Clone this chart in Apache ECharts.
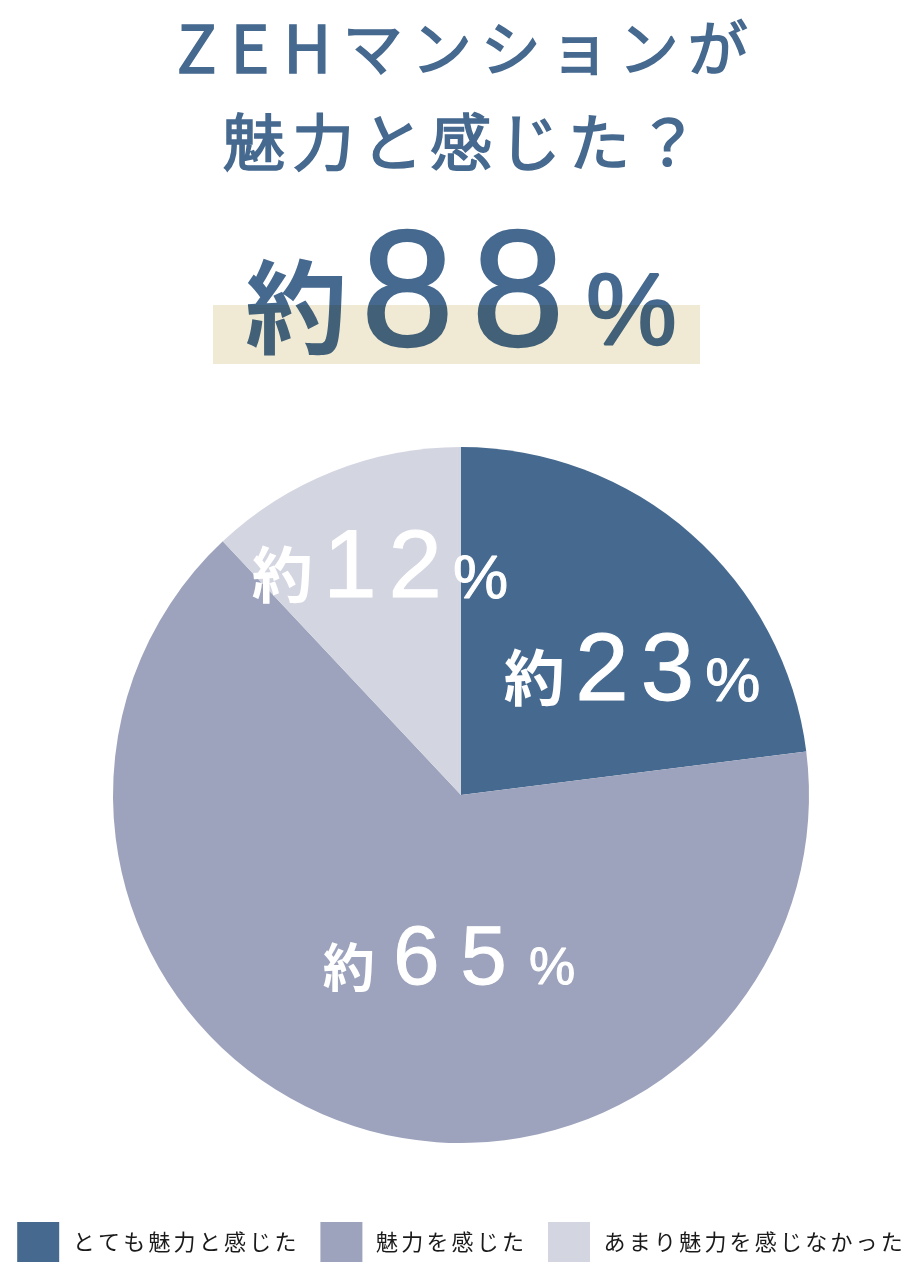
<!DOCTYPE html>
<html>
<head>
<meta charset="utf-8">
<script src="https://cdn.jsdelivr.net/npm/echarts@6/dist/echarts.min.js"></script>
<style>
html,body{margin:0;padding:0;background:#fff;}
#chart{width:920px;height:1280px;}
</style>
</head>
<body>
<div id="chart"></div>
<script>
// ---- data ----
const categories = ['とても魅力と感じた', '魅力を感じた', 'あまり魅力を感じなかった'];
const values = [23, 65, 12];
const titleLines = ['ZEHマンションが', '魅力と感じた？'];
const headlinePrefix = '約';
const headlineValue = values[0] + values[1];
const colors = ['#46698F', '#9DA3BC', '#D3D5E1'];

// ---- styling helpers ----
const CJK = '"Noto Sans CJK JP", "Noto Sans", sans-serif';
const NUM = '"Liberation Sans", Arial, sans-serif';
const titleColor = '#46698F';

function titleRich(line, tag) {
  return line.split('').map(function (c) {
    return (/[A-Za-z]/.test(c) ? '{l|' : '{' + tag + '|') + c + '}';
  }).join('');
}
function numRich(v, set) {
  return '{k' + set + '|約}' + String(v).split('').map(function (d) { return '{n' + set + '|' + d + '}'; }).join('') + '{p' + set + '|%}';
}
// baseline-aligned rich styles for "約 + digits + %"
// dk / dp: how far the 約 / % glyph bottoms sit below the digits' baseline
function pctStyles(suffix, fk, fn, fp, padK, padN, padP, dk, dp, isGraphic, color, border) {
  const lOff = 0.2 * fn;             // line bottom below digit baseline
  const pbk = lOff - 0.06 * fk - dk; // lift for 約
  const pbp = lOff - 0.2 * fp - dp;  // lift for %
  const s = {};
  function base(font, size, pad, weight, bw) {
    const o = { fontFamily: font, fontSize: size, lineHeight: fn, verticalAlign: 'bottom',
                padding: pad, fontWeight: weight };
    if (isGraphic) {
      o.fill = color;
      if (bw) { o.stroke = color; o.lineWidth = bw; }
    } else {
      o.color = color;
      if (bw) { o.textBorderColor = color; o.textBorderWidth = bw; }
    }
    return o;
  }
  s['k' + suffix] = base(CJK, fk, [0, padK, pbk, 0], 'bold', 0);
  s['n' + suffix] = base(NUM, fn, [0, padN, 0, padN], 'normal', border);
  s['p' + suffix] = base(NUM, fp, [0, 0, pbp, padP], 'normal', border);
  return { rich: s, lOff: lOff, H: fn };
}

const big = pctStyles('', 102, 166, 102, 5, 9, 13, 3, -3, true, titleColor, 2.4);
const lab1 = pctStyles('1', 61, 96, 62, 4.5, 6, 5, 2, 0, false, '#fff', 1);
const lab2 = pctStyles('2', 52, 83, 52, 8, 10.5, 12, 5, 0, false, '#fff', 1);
const labelSet = [1, 2, 1];
const labelDx = [54, 48, -16];
const labelBaseDy = [40, 24, -31];

const titleStyle = { fontFamily: CJK, fill: titleColor, stroke: titleColor, lineWidth: 1.6 };

const chart = echarts.init(document.getElementById('chart'), null, { renderer: 'canvas' });
const option = {
  backgroundColor: '#ffffff',
  animation: false,
  color: colors,
  legend: {
    data: categories,
    left: 'center',
    top: 1222,
    padding: 0,
    icon: 'rect',
    itemWidth: 42,
    itemHeight: 40,
    itemGap: 24,
    selectedMode: false,
    formatter: function (name) {
      return name.split('').map(function (c) { return '{c|' + c + '}'; }).join('');
    },
    textStyle: {
      padding: [0, 0, 0, 7],
      rich: { c: { fontFamily: CJK, fontSize: 22, color: '#1a1a1a', padding: [0, 1.6] } }
    }
  },
  graphic: [
    { type: 'text', z: 5, style: { x: 461, y: 48, align: 'center', verticalAlign: 'middle',
        text: titleRich(titleLines[0], 'a'),
        rich: {
          a: Object.assign({ fontSize: 60, padding: [0, 4.5] }, titleStyle),
          l: Object.assign({ fontSize: 66, padding: [0, 7] }, titleStyle)
        } } },
    { type: 'text', z: 5, style: { x: 461, y: 142, align: 'center', verticalAlign: 'middle',
        text: titleRich(titleLines[1], 'b'),
        rich: {
          b: Object.assign({ fontSize: 62, padding: [0, 3.5] }, titleStyle),
          l: Object.assign({ fontSize: 62 }, titleStyle)
        } } },
    { type: 'text', z: 5, style: { x: 461, y: 349 + big.lOff, align: 'center', verticalAlign: 'bottom',
        text: '{k|' + headlinePrefix + '}' + String(headlineValue).split('').map(function (d) { return '{n|' + d + '}'; }).join('') + '{p|%}',
        rich: big.rich } },
    { type: 'rect', z: 10, shape: { x: 213, y: 305, width: 487, height: 59 },
      style: { fill: '#F0EAD4', blend: 'multiply' } }
  ],
  series: [{
    type: 'pie',
    center: [461, 795],
    radius: 348,
    startAngle: 90,
    clockwise: true,
    avoidLabelOverlap: false,
    silent: true,
    emphasis: { disabled: true, scale: false },
    labelLine: { show: false },
    itemStyle: { borderWidth: 0 },
    label: {
      show: true,
      position: 'inside',
      formatter: function (p) { return numRich(p.value, labelSet[p.dataIndex]); },
      rich: Object.assign({}, lab1.rich, lab2.rich)
    },
    labelLayout: function (params) {
      const i = params.dataIndex;
      const st = labelSet[i] === 1 ? lab1 : lab2;
      return { dx: labelDx[i], dy: labelBaseDy[i] + st.lOff - st.H / 2 };
    },
    data: categories.map(function (c, i) { return { name: c, value: values[i] }; })
  }]
};
chart.setOption(option);
</script>
</body>
</html>
